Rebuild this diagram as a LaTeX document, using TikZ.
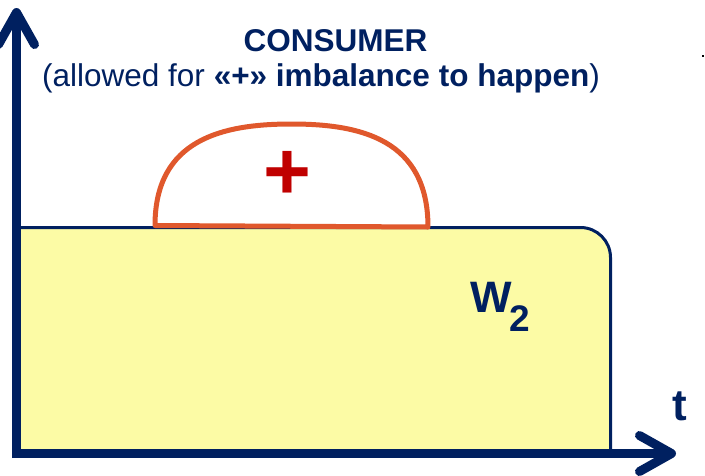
\documentclass[tikz,border=0pt]{standalone}
\usepackage{fontspec}
\setmainfont{Liberation Sans}
\usetikzlibrary{arrows.meta}
\definecolor{navy}{RGB}{0,32,96}
\definecolor{fillyel}{RGB}{252,251,165}
\definecolor{orng}{RGB}{224,88,44}
\definecolor{plusred}{RGB}{192,0,0}
\begin{document}
\begin{tikzpicture}[x=1pt,y=-1pt,
  axisline/.style={draw=navy,line width=9pt,-{Straight Barb[length=32pt,width=36pt,round]}},
  titletext/.style={text=navy,inner sep=0pt,font=\fontsize{31.5}{36}\selectfont},
  bigtext/.style={text=navy,inner sep=0pt,font=\fontsize{44}{48}\selectfont\bfseries},
  subtext/.style={text=navy,inner sep=0pt,font=\fontsize{37}{40}\selectfont\bfseries}]
\useasboundingbox (0,0) rectangle (705,475);
% coordinates
\coordinate (ybot) at (16.5,458);
\coordinate (ytop) at (16.5,8);
\coordinate (xleft) at (12,453.5);
\coordinate (xright) at (676,453.5);
% yellow region
\fill[fillyel] (21,449) -- (21,227.5) [rounded corners=30pt] -- (610.5,227.5) [sharp corners] -- (610.5,449) -- cycle;
\draw[navy,line width=3pt] (21,227.5) [rounded corners=30pt] -- (610.5,227.5) -- (610.5,449);
% dome
\filldraw[fill=white,draw=orng,line width=5pt,line join=round]
  (155,225.5) .. controls (155,139) and (223,124) .. (291.5,124)
  .. controls (360,124) and (428,139) .. (428,227) -- cycle;
\node[text=plusred,inner sep=0pt,font=\fontsize{82}{82}\selectfont\bfseries] (plus) at (287,175) {+};
% axes
\draw[axisline] (ybot) -- (ytop);
\draw[axisline] (xleft) -- (xright);
% texts
\node[titletext,anchor=base,font=\fontsize{31.5}{36}\selectfont\bfseries] (cons) at (335.5,51) {CONSUMER};
\node[titletext,anchor=base] (sub) at (321,86) {(allowed for \textbf{«+» imbalance to happen})};
\node[bigtext,anchor=base west] (w) at (470,312) {W};
\node[subtext,anchor=base west] (two) at (509,331) {2};
\node[bigtext,anchor=base] (t) at (680,420) {t};
\fill (702,55) rectangle (704,57);
\end{tikzpicture}
\end{document}
